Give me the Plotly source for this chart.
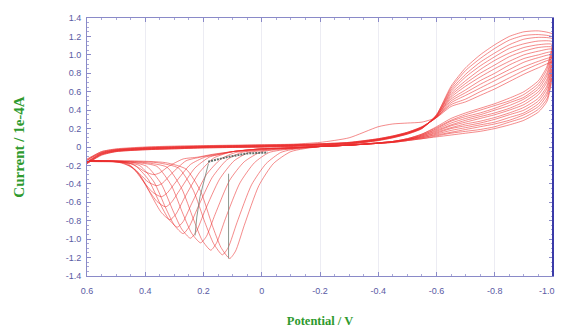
import plotly.graph_objects as go

# ---------------- data ----------------
X_TICKS = [0.6, 0.4, 0.2, 0.0, -0.2, -0.4, -0.6, -0.8, -1.0]
X_TICK_TEXT = ["0.6", "0.4", "0.2", "0", "-0.2", "-0.4", "-0.6", "-0.8", "-1.0"]
Y_TICKS = [1.4, 1.2, 1.0, 0.8, 0.6, 0.4, 0.2, 0.0, -0.2, -0.4, -0.6, -0.8, -1.0, -1.2, -1.4]
Y_TICK_TEXT = ["1.4", "1.2", "1.0", "0.8", "0.6", "0.4", "0.2", "0", "-0.2", "-0.4",
               "-0.6", "-0.8", "-1.0", "-1.2", "-1.4"]

# forward (cathodic) sweep, 0.6 V -> -1.0 V
FWD_X = [0.6, 0.55, 0.5, 0.4, 0.3, 0.2, 0.1, 0.0, -0.1, -0.2, -0.3, -0.4, -0.45, -0.5,
         -0.55, -0.6, -0.65, -0.7, -0.75, -0.8, -0.85, -0.9, -0.95, -1.0]
FWD_Y = [
    [-0.13, -0.05, -0.02, 0.0, 0.01, 0.015, 0.02, 0.025, 0.03, 0.05, 0.10, 0.22, 0.25, 0.26, 0.27, 0.32, 0.44, 0.49, 0.56, 0.63, 0.71, 0.79, 0.86, 0.92],
    [-0.14, -0.05, -0.025, -0.005, 0.005, 0.01, 0.015, 0.02, 0.025, 0.035, 0.05, 0.09, 0.12, 0.16, 0.22, 0.32, 0.46, 0.52, 0.60, 0.67, 0.75, 0.83, 0.90, 0.95],
    [-0.15, -0.06, -0.03, -0.01, 0.0, 0.01, 0.015, 0.02, 0.025, 0.035, 0.05, 0.09, 0.12, 0.16, 0.22, 0.32, 0.48, 0.56, 0.64, 0.72, 0.80, 0.87, 0.93, 0.97],
    [-0.15, -0.06, -0.03, -0.01, 0.0, 0.005, 0.01, 0.015, 0.02, 0.03, 0.045, 0.085, 0.115, 0.155, 0.215, 0.32, 0.50, 0.59, 0.68, 0.76, 0.84, 0.92, 0.97, 1.00],
    [-0.16, -0.065, -0.035, -0.015, -0.005, 0.005, 0.01, 0.015, 0.02, 0.03, 0.045, 0.085, 0.115, 0.155, 0.215, 0.33, 0.52, 0.62, 0.72, 0.80, 0.89, 0.96, 1.00, 1.03],
    [-0.16, -0.07, -0.035, -0.015, -0.005, 0.0, 0.005, 0.01, 0.02, 0.03, 0.045, 0.08, 0.11, 0.15, 0.21, 0.33, 0.54, 0.66, 0.76, 0.85, 0.93, 1.00, 1.04, 1.06],
    [-0.17, -0.07, -0.04, -0.02, -0.01, 0.0, 0.005, 0.01, 0.015, 0.025, 0.04, 0.08, 0.11, 0.15, 0.21, 0.33, 0.56, 0.69, 0.80, 0.89, 0.98, 1.04, 1.08, 1.08],
    [-0.17, -0.075, -0.04, -0.02, -0.01, 0.0, 0.0, 0.005, 0.015, 0.025, 0.04, 0.08, 0.11, 0.15, 0.21, 0.34, 0.58, 0.72, 0.84, 0.94, 1.02, 1.08, 1.11, 1.11],
    [-0.17, -0.08, -0.045, -0.025, -0.015, -0.005, 0.0, 0.005, 0.01, 0.02, 0.035, 0.075, 0.105, 0.145, 0.205, 0.34, 0.60, 0.76, 0.88, 0.98, 1.07, 1.12, 1.15, 1.14],
    [-0.18, -0.08, -0.045, -0.025, -0.015, -0.005, 0.0, 0.0, 0.01, 0.02, 0.035, 0.075, 0.105, 0.145, 0.205, 0.34, 0.62, 0.79, 0.92, 1.02, 1.11, 1.17, 1.19, 1.17],
    [-0.18, -0.085, -0.05, -0.03, -0.02, -0.01, -0.005, 0.0, 0.005, 0.015, 0.03, 0.07, 0.10, 0.14, 0.20, 0.35, 0.64, 0.83, 0.96, 1.07, 1.16, 1.21, 1.22, 1.19],
    [-0.18, -0.09, -0.05, -0.03, -0.02, -0.01, -0.005, 0.0, 0.005, 0.015, 0.03, 0.07, 0.10, 0.14, 0.20, 0.35, 0.66, 0.86, 1.00, 1.11, 1.20, 1.25, 1.26, 1.22],
]

# reverse sweep, -1.0 V -> -0.2 V
REV_X = [-1.0, -0.98, -0.95, -0.9, -0.85, -0.8, -0.75, -0.7, -0.65, -0.6, -0.55, -0.5,
         -0.45, -0.4, -0.3, -0.2]
REV_Y = [
    [0.92, 0.50, 0.38, 0.29, 0.24, 0.20, 0.17, 0.15, 0.13, 0.11, 0.09, 0.07, 0.05, 0.04, 0.02, 0.005],
    [0.95, 0.53, 0.41, 0.32, 0.27, 0.22, 0.19, 0.17, 0.15, 0.12, 0.09, 0.07, 0.05, 0.04, 0.02, 0.005],
    [0.97, 0.57, 0.44, 0.35, 0.29, 0.25, 0.22, 0.19, 0.16, 0.13, 0.10, 0.07, 0.05, 0.04, 0.02, 0.005],
    [1.00, 0.60, 0.47, 0.37, 0.32, 0.27, 0.24, 0.21, 0.18, 0.14, 0.10, 0.08, 0.055, 0.04, 0.02, 0.005],
    [1.03, 0.64, 0.50, 0.40, 0.35, 0.30, 0.26, 0.23, 0.20, 0.15, 0.11, 0.08, 0.055, 0.04, 0.02, 0.005],
    [1.06, 0.67, 0.53, 0.43, 0.37, 0.32, 0.28, 0.25, 0.21, 0.16, 0.11, 0.08, 0.055, 0.04, 0.02, 0.005],
    [1.08, 0.71, 0.57, 0.46, 0.40, 0.35, 0.31, 0.27, 0.23, 0.17, 0.12, 0.08, 0.055, 0.04, 0.02, 0.005],
    [1.11, 0.74, 0.60, 0.49, 0.42, 0.37, 0.33, 0.29, 0.24, 0.18, 0.12, 0.08, 0.06, 0.045, 0.02, 0.005],
    [1.14, 0.78, 0.63, 0.52, 0.45, 0.40, 0.35, 0.31, 0.26, 0.19, 0.13, 0.08, 0.06, 0.045, 0.02, 0.005],
    [1.17, 0.81, 0.66, 0.54, 0.48, 0.42, 0.37, 0.33, 0.28, 0.20, 0.13, 0.09, 0.06, 0.045, 0.02, 0.005],
    [1.19, 0.85, 0.69, 0.57, 0.50, 0.45, 0.40, 0.35, 0.29, 0.21, 0.14, 0.09, 0.06, 0.045, 0.02, 0.005],
    [1.22, 0.88, 0.72, 0.60, 0.53, 0.47, 0.42, 0.37, 0.31, 0.22, 0.14, 0.09, 0.06, 0.045, 0.02, 0.005],
]

# reverse sweep continued, -0.1 V -> 0.6 V (anodic stripping peaks)
STRIP_X = [
    [-0.1, 0.0, 0.1, 0.17, 0.22, 0.27, 0.32, 0.35, 0.37, 0.40, 0.43, 0.47, 0.52, 0.6],
    [-0.1, 0.0, 0.1, 0.16, 0.21, 0.26, 0.31, 0.34, 0.36, 0.39, 0.42, 0.46, 0.51, 0.6],
    [-0.1, 0.0, 0.1, 0.145, 0.195, 0.245, 0.295, 0.325, 0.345, 0.375, 0.405, 0.445, 0.5, 0.6],
    [-0.1, 0.0, 0.1, 0.13, 0.18, 0.23, 0.28, 0.31, 0.33, 0.36, 0.39, 0.43, 0.48, 0.6],
    [-0.1, 0.0, 0.1, 0.165, 0.215, 0.265, 0.295, 0.315, 0.345, 0.375, 0.415, 0.465, 0.6],
    [-0.1, 0.0, 0.09, 0.14, 0.19, 0.24, 0.27, 0.29, 0.32, 0.35, 0.39, 0.44, 0.5, 0.6],
    [-0.1, 0.0, 0.07, 0.12, 0.17, 0.22, 0.25, 0.27, 0.30, 0.33, 0.37, 0.42, 0.5, 0.6],
    [-0.1, 0.0, 0.045, 0.095, 0.145, 0.195, 0.225, 0.245, 0.275, 0.305, 0.345, 0.395, 0.46, 0.6],
    [-0.1, 0.0, 0.06, 0.11, 0.16, 0.19, 0.21, 0.24, 0.27, 0.31, 0.36, 0.43, 0.6],
    [-0.1, -0.025, 0.025, 0.075, 0.125, 0.155, 0.175, 0.205, 0.235, 0.275, 0.325, 0.4, 0.6],
    [-0.1, -0.065, -0.015, 0.035, 0.085, 0.115, 0.135, 0.165, 0.195, 0.235, 0.285, 0.36, 0.6],
    [-0.1, -0.04, 0.01, 0.06, 0.09, 0.11, 0.14, 0.17, 0.21, 0.26, 0.33, 0.45, 0.6],
]
STRIP_Y = [
    [-0.01, -0.02, -0.05, -0.08, -0.11, -0.13, -0.21, -0.28, -0.30, -0.27, -0.21, -0.16, -0.15, -0.15],
    [-0.01, -0.02, -0.05, -0.08, -0.11, -0.15, -0.29, -0.39, -0.42, -0.38, -0.29, -0.18, -0.15, -0.15],
    [-0.01, -0.02, -0.05, -0.08, -0.11, -0.19, -0.38, -0.50, -0.54, -0.49, -0.38, -0.22, -0.16, -0.15],
    [-0.01, -0.02, -0.05, -0.07, -0.11, -0.23, -0.46, -0.60, -0.65, -0.59, -0.46, -0.26, -0.17, -0.15],
    [-0.01, -0.02, -0.05, -0.12, -0.28, -0.55, -0.73, -0.79, -0.71, -0.55, -0.32, -0.18, -0.15],
    [-0.01, -0.03, -0.06, -0.13, -0.30, -0.61, -0.81, -0.87, -0.78, -0.61, -0.35, -0.19, -0.16, -0.15],
    [-0.01, -0.03, -0.06, -0.14, -0.33, -0.66, -0.87, -0.94, -0.85, -0.66, -0.38, -0.20, -0.16, -0.15],
    [-0.01, -0.04, -0.06, -0.15, -0.35, -0.69, -0.92, -0.99, -0.89, -0.69, -0.40, -0.21, -0.16, -0.15],
    [-0.02, -0.05, -0.16, -0.36, -0.73, -0.97, -1.04, -0.94, -0.73, -0.42, -0.21, -0.17, -0.15],
    [-0.02, -0.06, -0.17, -0.39, -0.78, -1.04, -1.12, -1.01, -0.78, -0.45, -0.22, -0.17, -0.15],
    [-0.03, -0.06, -0.18, -0.41, -0.82, -1.09, -1.17, -1.05, -0.82, -0.47, -0.23, -0.17, -0.15],
    [-0.05, -0.18, -0.42, -0.85, -1.13, -1.21, -1.09, -0.85, -0.48, -0.24, -0.17, -0.15, -0.15],
]

# grey marker lines in the stripping region
GREY1_X = [0.183, 0.195, 0.212, 0.223, 0.229]
GREY1_Y = [-0.18, -0.32, -0.54, -0.76, -0.96]
GREY2_X = [0.114, 0.114]
GREY2_Y = [-0.29, -1.21]
GREY3_X = [0.184, 0.12, 0.05, -0.02]
GREY3_Y = [-0.16, -0.11, -0.07, -0.06]

# ---------------- figure ----------------
fig = go.Figure()
RED = "rgba(236,45,45,0.62)"

for fy, ry, sx, sy in zip(FWD_Y, REV_Y, STRIP_X, STRIP_Y):
    xs = FWD_X + REV_X[1:] + sx
    ys = fy + ry[1:] + sy
    fig.add_trace(go.Scatter(x=xs, y=ys, mode="lines",
                             line=dict(color=RED, width=0.9, shape="spline", smoothing=0.6),
                             hoverinfo="skip"))

for gx, gy in ((GREY1_X, GREY1_Y), (GREY2_X, GREY2_Y)):
    fig.add_trace(go.Scatter(x=gx, y=gy, mode="lines",
                             line=dict(color="rgba(120,135,125,0.85)", width=1),
                             hoverinfo="skip"))
fig.add_trace(go.Scatter(x=GREY3_X, y=GREY3_Y, mode="lines",
                         line=dict(color="rgba(80,95,90,0.9)", width=2, dash="2px,1px"),
                         hoverinfo="skip"))

axis_col = "#8a8ac8"
tick_font = dict(family="Arial", size=9, color="#5a5aa4")
x_title_font = dict(family="Liberation Serif", size=12.5, color="#2e9a2e")
y_title_font = dict(family="Liberation Serif", size=15, color="#2e9a2e")

# the last x label sits at the right edge; it is drawn as an annotation nudged left
x_text_axis = X_TICK_TEXT[:-1] + [""]

fig.update_xaxes(
    range=[0.6, -1.0], tickvals=X_TICKS, ticktext=x_text_axis,
    ticks="inside", ticklen=4, tickcolor=axis_col, ticklabelstandoff=6,
    showline=True, linecolor=axis_col, linewidth=1, mirror="ticks",
    showgrid=True, gridcolor="#ececf3", gridwidth=1, zeroline=False,
    tickfont=tick_font, automargin=False,
    minor=dict(ticks="inside", ticklen=2, dtick=0.05, tickcolor="#a8a8d8", showgrid=False),
    title=dict(text="<b>Potential / V</b>", font=x_title_font, standoff=24),
)
fig.update_yaxes(
    range=[-1.4, 1.4], tickvals=Y_TICKS, ticktext=Y_TICK_TEXT,
    ticks="inside", ticklen=4, tickcolor=axis_col, ticklabelstandoff=3,
    showline=True, linecolor=axis_col, linewidth=1, mirror="ticks",
    showgrid=False, zeroline=False,
    tickfont=tick_font, automargin=False,
    minor=dict(ticks="inside", ticklen=2, dtick=0.05, tickcolor="#a8a8d8", showgrid=False),
    title=dict(text="<b>Current / 1e-4A</b>", font=y_title_font, standoff=37),
)

fig.add_annotation(x=X_TICKS[-1], y=0, xref="x", yref="paper", text=X_TICK_TEXT[-1],
                   showarrow=False, xanchor="right", yanchor="top", xshift=4, yshift=-8,
                   font=tick_font)

fig.add_shape(type="line", xref="paper", yref="paper", x0=1, x1=1, y0=0, y1=1,
              line=dict(color="#3a3aa8", width=2))

# the page body adds an 8px margin, so the figure is sized to fit inside the window
fig.update_layout(
    width=557, height=320,
    margin=dict(l=79, r=12, t=10, b=52),
    plot_bgcolor="white", paper_bgcolor="white",
    showlegend=False,
)

fig.write_html("out.html")
